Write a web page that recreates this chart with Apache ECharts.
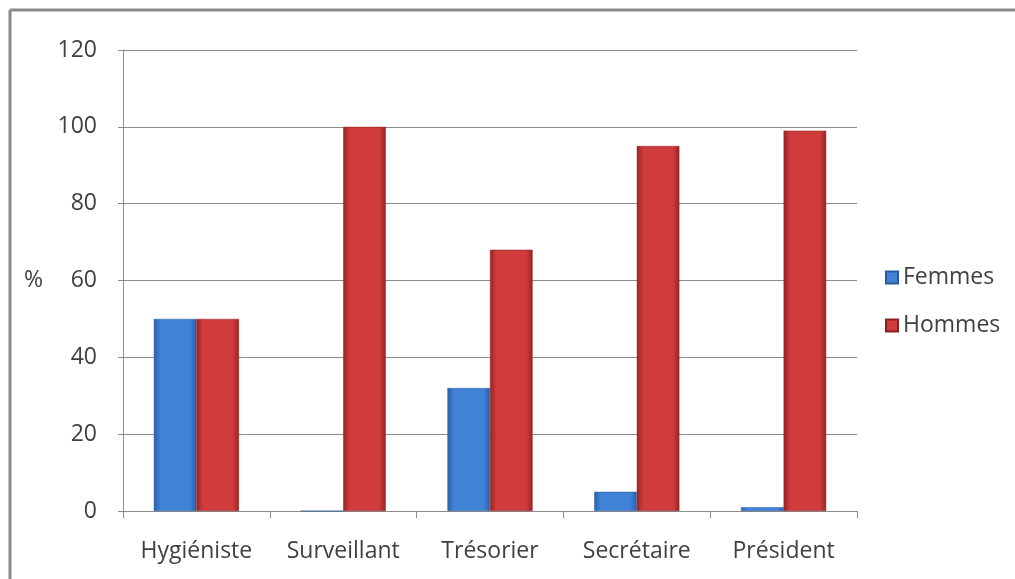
<!DOCTYPE html>
<html>
<head>
<meta charset="utf-8">
<script src="https://cdn.jsdelivr.net/npm/echarts@6/dist/echarts.min.js"></script>
<style>
  html, body { margin: 0; padding: 0; background: #fff; }
  #chart { width: 1015px; height: 579px; }
</style>
</head>
<body>
<div id="chart"></div>
<script>
// data
var categories = ['Hygiéniste', 'Surveillant', 'Trésorier', 'Secrétaire', 'Président'];
var femmes = [50, 0, 32, 5, 1];
var hommes = [50, 100, 68, 95, 99];
var seriesNames = ['Femmes', 'Hommes'];

var myChart = echarts.init(document.getElementById('chart'));

// gradient to fake the excel bevelled bars
function barGrad(edge, mid) {
  return new echarts.graphic.LinearGradient(0, 0, 1, 0, [
    { offset: 0, color: edge },
    { offset: 0.15, color: mid },
    { offset: 0.85, color: mid },
    { offset: 1, color: edge }
  ]);
}

var axisGrey = '#8c8c8c';
var textCol = '#404040';
var font = '"Open Sans", sans-serif';
var fs = 23;

var option = {
  backgroundColor: '#fff',
  animation: false,
  textStyle: { fontFamily: font },
  grid: { left: 123, right: 158, top: 50, bottom: 68 },
  legend: {
    orient: 'vertical',
    left: 880,
    top: 261,
    itemGap: 25,
    itemWidth: 12,
    itemHeight: 12,
    icon: 'rect',
    textStyle: { fontSize: fs, color: textCol, fontFamily: font },
    data: seriesNames
  },
  xAxis: {
    type: 'category',
    data: categories,
    axisLine: { lineStyle: { color: axisGrey } },
    axisTick: { show: true, length: 7, lineStyle: { color: axisGrey } },
    axisLabel: { interval: 0, fontSize: fs, color: textCol, margin: 29, fontFamily: font }
  },
  yAxis: {
    type: 'value',
    min: 0,
    max: 120,
    interval: 20,
    name: '%',
    nameLocation: 'middle',
    nameRotate: 0,
    nameGap: 80,
    nameTextStyle: { fontSize: fs, color: textCol, fontFamily: font },
    axisLine: { show: true, lineStyle: { color: axisGrey } },
    axisTick: { show: true, length: 5, lineStyle: { color: axisGrey } },
    splitLine: { lineStyle: { color: axisGrey, width: 1 } },
    axisLabel: { fontSize: fs, color: textCol, margin: 26, fontFamily: font }
  },
  series: [
    {
      name: seriesNames[0],
      type: 'bar',
      data: femmes,
      barGap: '0%',
      barCategoryGap: '42%',
      itemStyle: {
        color: barGrad('#2a5ea8', '#3f82d6'),
        borderColor: '#2b5a9c',
        borderWidth: 0.5
      }
    },
    {
      name: seriesNames[1],
      type: 'bar',
      data: hommes,
      barGap: '0%',
      barCategoryGap: '42%',
      itemStyle: {
        color: barGrad('#962424', '#d03b3b'),
        borderColor: '#8a2020',
        borderWidth: 0.5
      }
    }
  ],
  graphic: [
    // outer frame, only left and top edges are visible in the picture
    { type: 'line', shape: { x1: 10, y1: 10, x2: 1015, y2: 10 }, style: { stroke: '#8a8a8a', lineWidth: 3 } },
    { type: 'line', shape: { x1: 10, y1: 10, x2: 10, y2: 579 }, style: { stroke: '#8a8a8a', lineWidth: 3 } }
  ]
};

myChart.setOption(option);
</script>
</body>
</html>
